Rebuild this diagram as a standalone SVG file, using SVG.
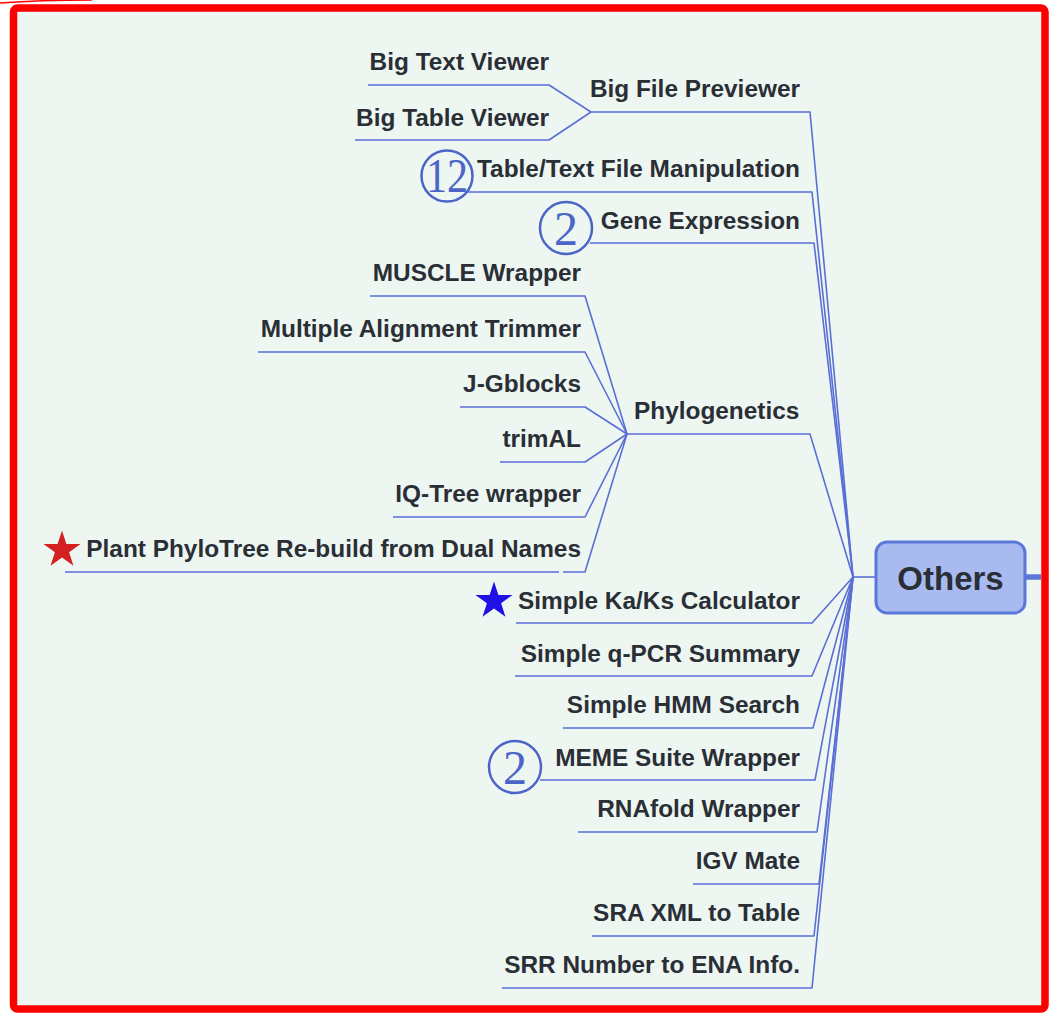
<svg xmlns="http://www.w3.org/2000/svg" width="1051" height="1016" viewBox="0 0 1051 1016">
  <defs>
    <style>
      .lbl { font-family: "Liberation Sans", Arial, sans-serif; font-weight: bold; font-size: 24.4px; fill: #2a2e35; }
      .root { font-family: "Liberation Sans", Arial, sans-serif; font-weight: bold; font-size: 33px; fill: #2a2e35; }
      .link { fill: none; stroke: #5a6fd6; stroke-width: 1.6; stroke-linejoin: round; }
      .badge circle { fill: none; stroke: #4a64c8; stroke-width: 2.5; }
      .badge text { font-family: "Liberation Serif", "Times New Roman", serif; font-size: 48px; fill: #4a64c8; text-anchor: middle; }
    </style>
    <path id="star" d="M0,-19.5 L4.38,-6.03 L18.55,-6.03 L7.09,2.3 L11.46,15.78 L0,7.45 L-11.46,15.78 L-7.09,2.3 L-18.55,-6.03 L-4.38,-6.03 Z"/>
  </defs>

  <!-- canvas and frame -->
  <rect x="0" y="0" width="1051" height="1016" fill="#ffffff"/>
  <rect x="13.5" y="8" width="1031.5" height="1001" rx="4" fill="#eef6f2" stroke="#ff0000" stroke-width="7.5"/>
  <path d="M0,3 Q40,0 92,0" fill="none" stroke="#ff0000" stroke-width="1.5"/>

  <!-- connectors -->
  <g id="connectors">
    <path class="link" d="M368,85 H549 L591,112"/>
    <path class="link" d="M355,140 H549 L591,112"/>
    <path class="link" d="M591,112 H810 L853,577"/>
    <path class="link" d="M468,192 H812 L853,577"/>
    <path class="link" d="M590,243 H814 L853,577"/>
    <path class="link" d="M370,296 H585 L627,434"/>
    <path class="link" d="M258,352 H585 L627,434"/>
    <path class="link" d="M460,407 H585 L627,434"/>
    <path class="link" d="M500,462 H585 L627,434"/>
    <path class="link" d="M393,517 H585 L627,434"/>
    <path class="link" d="M65,572 H559 M563,572 H585 L627,434"/>
    <path class="link" d="M627,434 H810 L853,577"/>
    <path class="link" d="M516,623 H812 L853,577"/>
    <path class="link" d="M515,676 H812 L853,577"/>
    <path class="link" d="M563,728 H813 L853,577"/>
    <path class="link" d="M540,780 H815 L853,577"/>
    <path class="link" d="M578,832 H817 L853,577"/>
    <path class="link" d="M693,884 H819 L853,577"/>
    <path class="link" d="M592,936 H814 L853,577"/>
    <path class="link" d="M502,988 H812 L853,577"/>
    <path class="link" d="M853,577 H876" stroke-width="2.8"/>
    <path d="M1025,577 H1041" fill="none" stroke="#5a78d8" stroke-width="5.5"/>
  </g>

  <!-- central topic -->
  <g id="others">
    <rect x="876" y="542" width="149" height="71" rx="11" fill="#a8baf0" stroke="#5a78d8" stroke-width="3"/>
    <text class="root" x="950.5" y="590" text-anchor="middle">Others</text>
  </g>

  <!-- file previewing -->
  <g id="big-file-previewer"><text class="lbl" x="800" y="97" text-anchor="end">Big File Previewer</text></g>
  <g id="big-text-viewer"><text class="lbl" x="549" y="70" text-anchor="end">Big Text Viewer</text></g>
  <g id="big-table-viewer"><text class="lbl" x="549" y="126" text-anchor="end">Big Table Viewer</text></g>

  <g id="table-text-manipulation">
    <g class="badge"><circle cx="447" cy="176" r="25.5"/><text x="447" y="192" textLength="42" lengthAdjust="spacingAndGlyphs">12</text></g>
    <text class="lbl" x="800" y="177" text-anchor="end">Table/Text File Manipulation</text>
  </g>

  <g id="gene-expression">
    <g class="badge"><circle cx="566" cy="228" r="26"/><text x="566" y="244.5">2</text></g>
    <text class="lbl" x="800" y="229" text-anchor="end">Gene Expression</text>
  </g>

  <!-- phylogenetics -->
  <g id="phylogenetics"><text class="lbl" x="634" y="419">Phylogenetics</text></g>
  <g id="muscle-wrapper"><text class="lbl" x="581" y="281" text-anchor="end">MUSCLE Wrapper</text></g>
  <g id="alignment-trimmer"><text class="lbl" x="581" y="337" text-anchor="end">Multiple Alignment Trimmer</text></g>
  <g id="j-gblocks"><text class="lbl" x="581" y="392" text-anchor="end">J-Gblocks</text></g>
  <g id="trimal"><text class="lbl" x="581" y="447" text-anchor="end">trimAL</text></g>
  <g id="iq-tree"><text class="lbl" x="581" y="502" text-anchor="end">IQ-Tree wrapper</text></g>
  <g id="plant-phylotree">
    <use href="#star" x="62" y="550" fill="#d42020"/>
    <text class="lbl" x="581" y="557" text-anchor="end">Plant PhyloTree Re-build from Dual Names</text>
  </g>

  <!-- other tools -->
  <g id="kaks">
    <use href="#star" x="494" y="601" fill="#1f10e6"/>
    <text class="lbl" x="800" y="609" text-anchor="end">Simple Ka/Ks Calculator</text>
  </g>
  <g id="qpcr"><text class="lbl" x="800" y="662" text-anchor="end">Simple q-PCR Summary</text></g>
  <g id="hmm"><text class="lbl" x="800" y="713" text-anchor="end">Simple HMM Search</text></g>
  <g id="meme">
    <g class="badge"><circle cx="515" cy="767" r="26"/><text x="515" y="783.5">2</text></g>
    <text class="lbl" x="800" y="766" text-anchor="end">MEME Suite Wrapper</text>
  </g>
  <g id="rnafold"><text class="lbl" x="800" y="817" text-anchor="end">RNAfold Wrapper</text></g>
  <g id="igv-mate"><text class="lbl" x="800" y="869" text-anchor="end">IGV Mate</text></g>
  <g id="sra-xml"><text class="lbl" x="800" y="921" text-anchor="end">SRA XML to Table</text></g>
  <g id="srr-ena"><text class="lbl" x="800" y="973" text-anchor="end">SRR Number to ENA Info.</text></g>
</svg>
